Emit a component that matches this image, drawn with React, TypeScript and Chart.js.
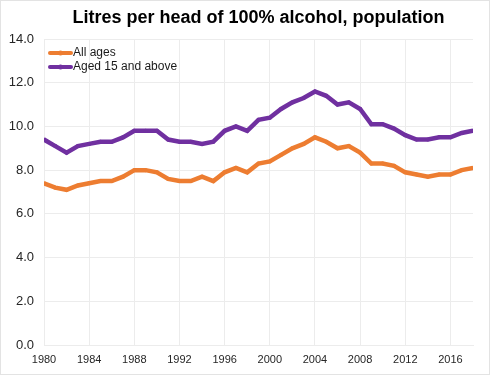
import React, { useEffect, useRef } from "react";
import { Chart, registerables } from "chart.js";

Chart.register(...registerables);

const years: number[] = [
  1980, 1981, 1982, 1983, 1984, 1985, 1986, 1987, 1988, 1989,
  1990, 1991, 1992, 1993, 1994, 1995, 1996, 1997, 1998, 1999,
  2000, 2001, 2002, 2003, 2004, 2005, 2006, 2007, 2008, 2009,
  2010, 2011, 2012, 2013, 2014, 2015, 2016, 2017, 2018,
];

const allAges: number[] = [
  7.4, 7.2, 7.1, 7.3, 7.4, 7.5, 7.5, 7.7, 8.0, 8.0,
  7.9, 7.6, 7.5, 7.5, 7.7, 7.5, 7.9, 8.1, 7.9, 8.3,
  8.4, 8.7, 9.0, 9.2, 9.5, 9.3, 9.0, 9.1, 8.8, 8.3,
  8.3, 8.2, 7.9, 7.8, 7.7, 7.8, 7.8, 8.0, 8.1,
];

const aged15: number[] = [
  9.4, 9.1, 8.8, 9.1, 9.2, 9.3, 9.3, 9.5, 9.8, 9.8,
  9.8, 9.4, 9.3, 9.3, 9.2, 9.3, 9.8, 10.0, 9.8, 10.3,
  10.4, 10.8, 11.1, 11.3, 11.6, 11.4, 11.0, 11.1, 10.8, 10.1,
  10.1, 9.9, 9.6, 9.4, 9.4, 9.5, 9.5, 9.7, 9.8,
];

const seriesNames: string[] = ["All ages", "Aged 15 and above"];
const seriesColors: string[] = ["#ED7D31", "#7030A0"];
const titleText = "Litres per head of 100% alcohol, population";

const FONT = "'Liberation Sans', Arial, sans-serif";

export default function App() {
  const ref = useRef<HTMLCanvasElement | null>(null);

  useEffect(() => {
    if (!ref.current) return;
    const decorPlugin = {
      id: "decor",
      beforeDraw(chart: any) {
        const ctx = chart.ctx;
        ctx.save();
        ctx.fillStyle = "#ffffff";
        ctx.fillRect(0, 0, chart.width, chart.height);
        ctx.strokeStyle = "#e3e3e3";
        ctx.lineWidth = 1;
        ctx.strokeRect(0.5, 0.5, chart.width - 1, chart.height - 1);
        ctx.restore();
      },
      afterDraw(chart: any) {
        const ctx = chart.ctx;
        const area = chart.chartArea;
        ctx.save();
        // title, centred over the plot area
        ctx.fillStyle = "#000000";
        ctx.font = `bold 18px ${FONT}`;
        ctx.textAlign = "center";
        ctx.textBaseline = "middle";
        ctx.fillText(titleText, (area.left + area.right) / 2, 18);
        // legend inside the plot area
        ctx.font = `12px ${FONT}`;
        ctx.textAlign = "left";
        chart.data.datasets.forEach((ds: any, i: number) => {
          const y = area.top + 14 + i * 14;
          const x0 = area.left + 6;
          ctx.strokeStyle = ds.borderColor;
          ctx.lineWidth = 4;
          ctx.lineCap = "round";
          ctx.beginPath();
          ctx.moveTo(x0, y);
          ctx.lineTo(x0 + 21, y);
          ctx.stroke();
          ctx.fillStyle = ds.borderColor;
          ctx.beginPath();
          ctx.arc(x0 + 10.5, y, 2.5, 0, Math.PI * 2);
          ctx.fill();
          ctx.fillStyle = "#1a1a1a";
          ctx.fillText(ds.label, x0 + 23, y);
        });
        ctx.restore();
      },
    };
    const chart = new Chart(ref.current, {
      type: "line",
      data: {
        datasets: seriesNames.map((name, k) => ({
          label: name,
          data: years.map((y, i) => ({ x: y, y: (k === 0 ? allAges : aged15)[i] })),
          borderColor: seriesColors[k],
          backgroundColor: seriesColors[k],
          borderWidth: 4.5,
          pointRadius: 2,
          pointBorderWidth: 0,
          tension: 0,
        })),
      },
      options: {
        animation: false,
        responsive: false,
        layout: { padding: { left: 0, right: 17, top: 39, bottom: 0 } },
        plugins: {
          title: { display: false },
          legend: { display: false },
          tooltip: { enabled: false },
        },
        scales: {
          x: {
            type: "linear",
            min: 1980,
            max: 2018,
            afterFit: (s: any) => {
              s.height = 30;
            },
            ticks: {
              stepSize: 4,
              includeBounds: false,
              maxRotation: 0,
              color: "#262626",
              font: { family: FONT, size: 11 },
              padding: 8,
              callback: (v: any) => String(v),
            },
            grid: { color: "#ececec", drawTicks: false },
            border: { color: "#ececec" },
          },
          y: {
            min: 0,
            max: 14,
            afterFit: (s: any) => {
              s.width = 44;
            },
            ticks: {
              stepSize: 2,
              color: "#262626",
              font: { family: FONT, size: 13 },
              padding: 10,
              callback: (v: any) => Number(v).toFixed(1),
            },
            grid: { color: "#ececec", drawTicks: false },
            border: { color: "#ececec" },
          },
        },
      },
      plugins: [decorPlugin],
    } as any);
    return () => chart.destroy();
  }, []);

  return (
    <div style={{ position: "fixed", left: 0, top: 0, width: 490, height: 375 }}>
      <canvas ref={ref} width={490} height={375} />
    </div>
  );
}
